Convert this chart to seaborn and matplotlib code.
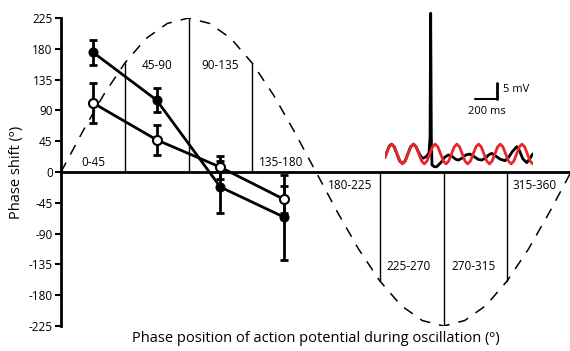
import matplotlib
matplotlib.use("Agg")
import matplotlib.pyplot as plt
import seaborn as sns
import numpy as np
import pandas as pd

# ---------------- data ----------------
phase_bins = [22.5, 67.5, 112.5, 157.5]
shift_filled = [175, 105, -22, -66]
err_filled = [18, 17, 38, 62]
shift_open = [101, 47, 7, -40]
err_open = [29, 22, 17, 20]

bin_labels = ["0-45", "45-90", "90-135", "135-180",
              "180-225", "225-270", "270-315", "315-360"]
bin_label_x = [22.5, 67.5, 112.5, 155, 204, 245.5, 291, 334.5]
bin_label_y = [14, 155, 155, 14, -20, -138, -138, -20]

divider_x = [45, 90, 135, 225, 270, 315]
divider_top = [159, 225, 159, -159, -225, -159]

osc_phase = [0, 15, 30, 45, 60, 75, 90, 105, 120, 135, 150, 165, 180,
             195, 210, 225, 240, 255, 270, 285, 300, 315, 330, 345, 360]
osc_value = [0, 58, 112.5, 159, 195, 217, 225, 217, 195, 159, 112.5, 58, 0,
             -58, -112.5, -159, -195, -217, -225, -217, -195, -159, -112.5, -58, 0]

yticks = [-225, -180, -135, -90, -45, 0, 45, 90, 135, 180, 225]

# inset traces (time in ms, voltage in mV relative to rest)
black_t = [0, 20, 40, 61, 85, 110, 135, 160, 185, 210, 235, 261, 285, 310, 335,
           353, 380, 405, 415, 421, 427, 433, 455, 476, 500, 522, 550, 584, 620,
           650, 676, 710, 745, 783, 820, 860, 891, 925, 955, 983, 1020, 1060,
           1106, 1140, 1175, 1214, 1240, 1270, 1306, 1335, 1361]
black_mv = [-0.8, 0.8, 2.5, 3.1, 2.2, 0.0, -2.2, -2.9, -2.2, 0.0, 2.2, 3.1, 2.3,
            0.5, -1.0, -1.3, -0.8, 0.3, 5.0, 44.0, 5.0, -3.4, -4.0, -4.0, -3.2,
            -2.4, -1.0, -0.3, -0.8, -1.6, -1.9, -1.3, -0.3, 0.0, -0.8, -1.7, -1.9,
            -1.3, -0.3, 0.2, -0.6, -1.6, -2.1, -1.0, 0.8, 2.3, 1.0, -1.5, -2.7,
            -1.5, 0.0]
red_t = [0] + list(np.arange(12.5, 1363, 25))
red_mv = [-1.2,
          0, 2.2, 3.1, 2.2, 0, -2.2, -3.1, -2.2,
          0, 2.2, 3.1, 2.2, 0, -2.2, -3.1, -2.2,
          0, 2.2, 3.1, 2.2, 0, -2.2, -3.1, -2.2,
          0, 2.2, 3.1, 2.2, 0, -2.2, -3.1, -2.2,
          0, 2.2, 3.1, 2.2, 0, -2.2, -3.1, -2.2,
          0, 2.2, 3.1, 2.2, 0, -2.2, -3.1, -2.2,
          0, 2.2, 3.1, 2.2, 0, -2.2, -3.1]

# ---------------- style ----------------
sns.set_style("white")
plt.rcParams["font.family"] = ["Open Sans", "DejaVu Sans"]
plt.rcParams["axes.unicode_minus"] = False
plt.rcParams["text.color"] = "black"
plt.rcParams["axes.labelcolor"] = "black"
plt.rcParams["ytick.color"] = "black"
plt.rcParams["xtick.color"] = "black"

W, H = 570, 351
fig = plt.figure(figsize=(W / 100, H / 100), dpi=100)
ax = fig.add_axes([61 / W, 25 / H, 510 / W, 308 / H])
ax.set_xlim(0, 360)
ax.set_ylim(-225, 225)
ax.patch.set_alpha(0)

# dashed oscillation
sns.lineplot(x=osc_phase, y=osc_value, ax=ax, color="black", lw=1.1,
             linestyle=(0, (7, 6)), zorder=1)

# dividers
for xv, top in zip(divider_x, divider_top):
    ax.plot([xv, xv], [0, top], color="black", lw=1.0, zorder=1)
ax.plot([266, 274], [-225, -225], color="black", lw=1.0, zorder=1)

# zero axis
ax.axhline(0, xmin=0, xmax=1, color="black", lw=2, zorder=2)

# bin labels
for lab, xv, yv in zip(bin_labels, bin_label_x, bin_label_y):
    ax.text(xv, yv, lab, ha="center", va="center", fontsize=8.5, color="black",
            zorder=3)

# series
df_f = pd.DataFrame({"phase": phase_bins, "shift": shift_filled})
df_o = pd.DataFrame({"phase": phase_bins, "shift": shift_open})
ax.errorbar(phase_bins, shift_filled, yerr=err_filled, fmt="none",
            ecolor="black", elinewidth=2, capsize=3, capthick=2, zorder=4)
sns.lineplot(data=df_f, x="phase", y="shift", ax=ax, color="black", lw=2,
             marker="o", markersize=6.5, markerfacecolor="black",
             markeredgecolor="black", zorder=5)
ax.errorbar(phase_bins, shift_open, yerr=err_open, fmt="none",
            ecolor="black", elinewidth=2, capsize=3, capthick=2, zorder=6)
sns.lineplot(data=df_o, x="phase", y="shift", ax=ax, color="black", lw=2,
             marker="o", markersize=6.5, markerfacecolor="white",
             markeredgecolor="black", markeredgewidth=1.5, zorder=7)

# axes styling
sns.despine(ax=ax, top=True, right=True, bottom=True)
ax.spines["left"].set_linewidth(2)
ax.spines["left"].set_color("black")
ax.set_yticks(yticks)
ax.set_yticklabels([str(v) for v in yticks], fontsize=8.5)
ax.set_xticks([])
ax.tick_params(axis="y", direction="out", length=4, width=1.5, pad=2,
               left=True, colors="black")
ax.set_ylabel("Phase shift (ᵒ)", fontsize=10.5, labelpad=3, color="black")
ax.set_xlabel("")
fig.text(316 / W, 1 - 338 / H,
         "Phase position of action potential during oscillation (ᵒ)",
         ha="center", va="center", fontsize=10.5, color="black")

# inset trace
ax2 = fig.add_axes([385 / W, (H - 173.2) / H, 148 / W, 166.4 / H])
ax2.set_xlim(0, 1364)
ax2.set_ylim(-6, 46)
ax2.axis("off")
ax2.patch.set_alpha(0)
sns.lineplot(x=black_t, y=black_mv, ax=ax2, color="black", lw=2, sort=False)
sns.lineplot(x=red_t, y=red_mv, ax=ax2, color="#e8262a", lw=2, sort=False)
ax2.plot([829, 1029], [17.2, 17.2], color="black", lw=1.5)
ax2.plot([1029, 1029], [17.2, 22.2], color="black", lw=2)
ax2.text(1085, 20, "5 mV", ha="left", va="center", fontsize=8, color="black")
ax2.text(940, 13.2, "200 ms", ha="center", va="center", fontsize=8,
         color="black")

fig.savefig("out.png", dpi=100)
